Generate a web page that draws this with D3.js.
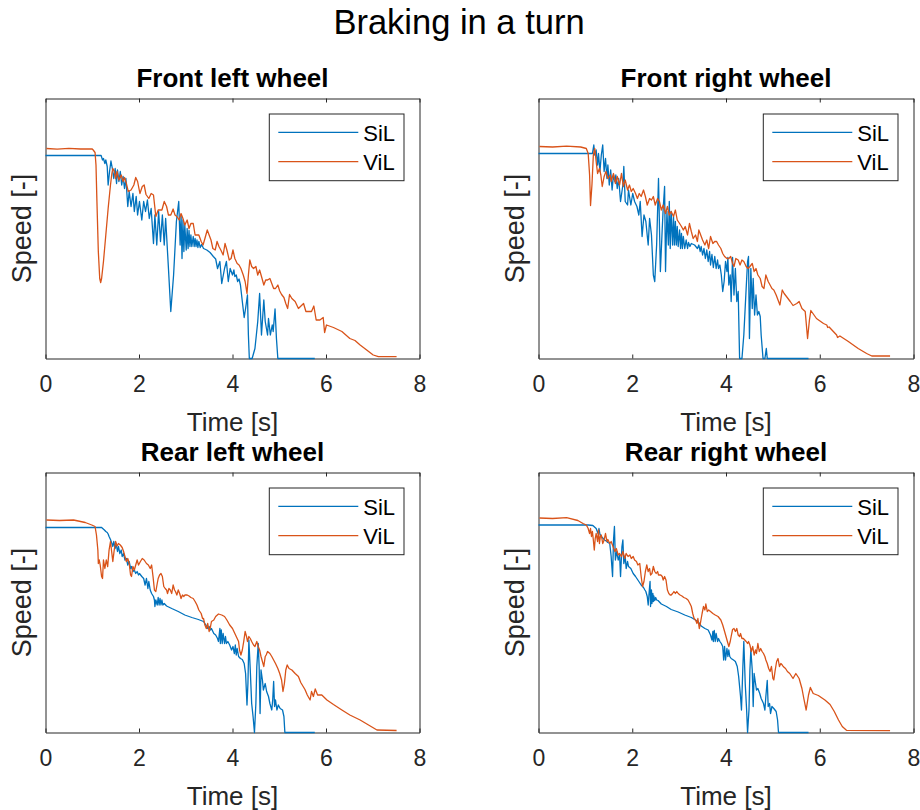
<!DOCTYPE html>
<html>
<head>
<meta charset="utf-8">
<script src="https://cdn.jsdelivr.net/npm/d3@7"></script>
<style>
  body { margin: 0; background: #fff; }
  svg { display: block; }
  text { font-family: "Liberation Sans", Arial, Helvetica, sans-serif; }
</style>
</head>
<body>
<svg id="fig" width="920" height="810"></svg>
<script>
// Wheel speed traces, [time s, speed], for SiL (blue) and ViL (orange) runs.
const flSiL = [[0,203],[1.19,203],[1.22,198.5],[1.24,200],[1.27,195],[1.29,198.5],[1.32,192],[1.34,173.5],[1.37,187],[1.40,197.5],[1.43,190],[1.46,180],[1.49,190],[1.52,175],[1.54,188.5],[1.57,177],[1.60,187],[1.63,173.5],[1.66,182],[1.69,170],[1.72,180],[1.76,152],[1.79,167],[1.83,152],[1.87,165],[1.90,147],[1.94,162],[1.97,143.5],[2.01,157],[2.06,138.5],[2.10,157],[2.14,147],[2.18,158.5],[2.22,140],[2.26,150],[2.31,115],[2.34,143.5],[2.38,113.5],[2.42,147],[2.46,117],[2.50,143.5],[2.54,113.5],[2.57,140],[2.63,90],[2.68,47],[2.74,83.5],[2.80,137],[2.85,157],[2.88,113.5],[2.90,143.5],[2.92,100],[2.94,138.5],[2.96,107],[2.98,133.5],[3.01,108.5],[3.03,130],[3.05,110],[3.07,128],[3.09,112],[3.11,123.5],[3.13,112],[3.16,122],[3.18,112],[3.20,120],[3.22,112],[3.24,118.5],[3.26,111],[3.28,117],[3.31,111],[3.34,114],[3.38,110],[3.45,108.5],[3.52,106],[3.59,102],[3.64,99.5],[3.68,90],[3.73,97],[3.77,75],[3.83,90],[3.87,97],[3.91,77],[3.95,90],[4.00,83.5],[4.03,88.5],[4.05,82],[4.08,83.5],[4.11,77],[4.14,79.5],[4.17,73.5],[4.21,57],[4.25,41],[4.28,50],[4.32,63.5],[4.34,23.5],[4.36,0],[4.42,0],[4.48,10],[4.54,37],[4.58,65],[4.62,23.5],[4.67,58.5],[4.70,37],[4.75,23.5],[4.77,40],[4.81,23.5],[4.85,33.5],[4.87,27],[4.91,49.5],[4.94,20],[4.97,0],[5.76,0]];
const flViL = [[0.02,210],[0.25,209.3],[0.5,210.2],[0.75,209.5],[1.0,209.5],[1.02,208.5],[1.06,206],[1.08,193.5],[1.10,157],[1.13,107],[1.16,80],[1.18,76],[1.20,80],[1.24,97],[1.29,123.5],[1.34,150],[1.39,173.5],[1.42,185],[1.44,190],[1.47,187.5],[1.50,180],[1.53,187],[1.57,178.5],[1.62,183.5],[1.66,177],[1.69,181],[1.73,175],[1.77,167],[1.83,168.5],[1.89,173.5],[1.93,181],[1.97,177],[2.02,165],[2.07,172],[2.11,173.5],[2.15,164],[2.21,160],[2.26,165],[2.31,163.5],[2.36,142],[2.41,148.5],[2.49,148.5],[2.54,157],[2.59,152],[2.63,143.5],[2.68,143.5],[2.73,149.5],[2.77,143.5],[2.81,142],[2.86,138.5],[2.90,145],[2.94,140],[2.98,133.5],[3.03,138.5],[3.07,130],[3.11,135],[3.16,135],[3.20,123.5],[3.24,123.5],[3.28,123.5],[3.33,117],[3.37,113.5],[3.41,120],[3.46,128.5],[3.50,123.5],[3.54,118.5],[3.58,110],[3.63,108.5],[3.67,117],[3.71,112],[3.75,108.5],[3.80,103.5],[3.84,115],[3.88,108.5],[3.93,98.5],[3.97,100],[4.01,108.5],[4.05,100],[4.10,95],[4.14,93.5],[4.18,90],[4.23,83.5],[4.27,77],[4.31,65],[4.34,83.5],[4.37,98.5],[4.41,92],[4.45,90],[4.50,92],[4.54,83.5],[4.58,88.5],[4.62,82],[4.67,73.5],[4.71,78.5],[4.75,78.5],[4.80,80],[4.84,75],[4.88,70],[4.92,70],[4.97,73.5],[5.01,67.5],[5.05,64],[5.10,61],[5.14,55],[5.18,50],[5.22,64],[5.27,60],[5.34,57],[5.41,50],[5.52,55],[5.57,47],[5.69,47],[5.74,52.5],[5.79,38.5],[5.87,38.5],[5.94,41],[5.97,26],[6.01,33.5],[6.16,31],[6.34,27],[6.51,20],[6.62,18],[6.73,13.5],[6.87,8.5],[7.01,3.5],[7.12,1.8],[7.51,1.8]];

const frSiL = [[0,205],[1.15,205],[1.18,213.5],[1.20,203.5],[1.23,208.5],[1.26,193.5],[1.28,205],[1.31,187],[1.34,203.5],[1.37,213.5],[1.40,187],[1.43,200],[1.46,180],[1.48,193.5],[1.51,173.5],[1.54,188.5],[1.57,168.5],[1.60,183.5],[1.63,177],[1.65,183.5],[1.68,170],[1.71,180],[1.75,157],[1.80,173.5],[1.82,192],[1.85,157],[1.90,153.5],[1.92,168.5],[1.97,153.5],[2.01,165],[2.05,157],[2.10,152],[2.14,143.5],[2.17,157],[2.21,122],[2.25,143.5],[2.29,137],[2.34,113.5],[2.37,140],[2.41,123.5],[2.45,83.5],[2.48,77],[2.52,113.5],[2.56,180],[2.60,87],[2.64,130],[2.66,150],[2.69,172],[2.71,87],[2.74,147],[2.77,113.5],[2.79,157],[2.81,110],[2.83,147],[2.86,113.5],[2.88,142],[2.90,113.5],[2.92,137],[2.94,113.5],[2.96,132],[2.98,112],[3.01,128.5],[3.03,110],[3.05,125],[3.07,110],[3.09,122],[3.12,110],[3.15,118.5],[3.18,110],[3.20,116],[3.23,112],[3.26,115],[3.33,113.5],[3.39,110],[3.42,113.5],[3.45,107],[3.47,112],[3.50,103.5],[3.53,110],[3.56,100],[3.59,108.5],[3.62,97],[3.65,107],[3.67,93.5],[3.70,104],[3.73,91],[3.76,102],[3.79,90],[3.82,98.5],[3.84,90],[3.87,93.5],[3.90,83.5],[3.93,67],[3.96,77],[3.99,97],[4.02,87],[4.04,101],[4.06,73.5],[4.09,83.5],[4.11,57],[4.14,101],[4.17,63.5],[4.20,90],[4.23,57],[4.26,67],[4.29,0],[4.34,0],[4.38,23.5],[4.43,70],[4.46,97],[4.48,102],[4.50,20],[4.53,90],[4.56,50],[4.58,80],[4.61,43.5],[4.64,63.5],[4.67,43.5],[4.70,47],[4.73,42],[4.75,23.5],[4.79,0],[4.83,0],[4.86,10],[4.88,0],[5.76,0]];
const frViL = [[0.02,212],[0.3,211.5],[0.6,212.3],[0.9,211.5],[1.02,210],[1.06,205],[1.09,183.5],[1.11,153],[1.14,173.5],[1.17,203.5],[1.20,210],[1.23,197],[1.26,185],[1.30,190],[1.33,183.5],[1.36,172],[1.40,182],[1.44,187],[1.48,180],[1.53,183.5],[1.55,177],[1.60,185],[1.64,175],[1.68,182],[1.73,173.5],[1.77,185],[1.81,172],[1.85,178.5],[1.90,168.5],[1.94,173.5],[1.98,167],[2.02,170],[2.07,165],[2.11,160],[2.15,165],[2.19,162],[2.24,168.5],[2.28,162],[2.32,153.5],[2.37,160],[2.41,158.5],[2.45,162],[2.49,153.5],[2.54,160],[2.58,157],[2.62,148.5],[2.66,153.5],[2.71,145],[2.75,152],[2.79,143.5],[2.83,147],[2.88,142],[2.92,148.5],[2.96,138.5],[3.01,135],[3.05,132],[3.09,128.5],[3.13,132],[3.18,123.5],[3.22,135],[3.26,127],[3.30,120],[3.35,123.5],[3.39,117],[3.42,128.5],[3.46,123.5],[3.50,118.5],[3.55,113.5],[3.59,118.5],[3.63,110],[3.67,122],[3.72,115],[3.76,117],[3.80,117],[3.84,113.5],[3.89,110],[3.93,105],[3.97,102],[4.02,100],[4.06,100],[4.10,102],[4.14,95],[4.17,92],[4.21,100],[4.26,98.5],[4.30,93.5],[4.34,98.5],[4.38,97],[4.43,92],[4.47,90],[4.51,92],[4.56,95],[4.60,87],[4.64,90],[4.68,83.5],[4.73,80],[4.77,72],[4.81,70],[4.85,83.5],[4.90,77],[4.94,73.5],[4.98,70],[5.02,68.5],[5.07,63.5],[5.11,58.5],[5.15,53.5],[5.20,68.5],[5.24,65],[5.29,62],[5.37,57],[5.43,53],[5.51,55],[5.56,57],[5.62,50],[5.69,47],[5.74,20],[5.78,38.5],[5.81,48],[5.93,40],[6.08,35],[6.15,33.5],[6.17,31],[6.20,31.5],[6.36,23.5],[6.38,21],[6.43,22.5],[6.61,17],[6.82,10],[7.00,5],[7.11,2.5],[7.50,2.5]];

const rlSiL = [[0,205],[1.20,205],[1.26,202.5],[1.29,201],[1.32,200],[1.34,198.5],[1.36,196],[1.39,193],[1.42,189],[1.44,186],[1.46,191],[1.49,184],[1.51,189],[1.54,181],[1.56,186],[1.59,179],[1.62,182.5],[1.64,176],[1.67,179],[1.70,172.5],[1.73,174],[1.76,167.5],[1.79,171],[1.82,164],[1.84,166],[1.87,161],[1.90,162.5],[1.93,159],[1.96,161],[1.99,157.5],[2.01,159],[2.06,156],[2.10,154],[2.13,147.5],[2.16,154],[2.19,144],[2.21,151],[2.24,142.5],[2.27,139],[2.31,136],[2.33,132.5],[2.34,126],[2.36,132.5],[2.39,127.5],[2.41,135],[2.43,127.5],[2.45,134],[2.47,127.5],[2.49,132.5],[2.51,127.5],[2.54,129],[2.59,126.5],[2.70,124],[2.84,121],[2.98,117.5],[3.13,115],[3.27,113],[3.38,111],[3.43,107.5],[3.47,104],[3.50,106],[3.53,102.5],[3.55,104],[3.60,99],[3.64,97.5],[3.68,94],[3.70,91],[3.73,104],[3.74,89],[3.76,102.5],[3.78,89],[3.80,99],[3.83,89],[3.85,96],[3.87,89],[3.90,91],[3.94,87.5],[3.98,82.5],[4.01,86],[4.04,79],[4.06,87.5],[4.08,77.5],[4.10,84],[4.13,76],[4.17,74],[4.21,73],[4.25,69],[4.28,59],[4.31,27.5],[4.33,49],[4.35,92.5],[4.38,62.5],[4.41,29],[4.44,16],[4.47,0],[4.50,29],[4.52,66],[4.55,89],[4.57,66],[4.59,19],[4.61,62.5],[4.64,52.5],[4.66,42.5],[4.70,49],[4.73,41],[4.77,36],[4.80,29],[4.84,22.5],[4.86,32.5],[4.88,51],[4.90,26],[4.92,32.5],[4.95,22.5],[4.98,27.5],[5.02,24],[5.07,22.5],[5.10,16],[5.12,0],[5.76,0]];
const rlViL = [[0.02,212.5],[0.3,212],[0.6,212.5],[0.85,210],[0.99,207.5],[1.06,206],[1.09,197.5],[1.12,182.5],[1.13,169],[1.15,172.5],[1.17,167.5],[1.20,156],[1.22,154],[1.24,172.5],[1.27,164],[1.30,172.5],[1.33,166],[1.36,182.5],[1.39,191],[1.42,179],[1.44,171],[1.47,182.5],[1.50,191],[1.53,186.5],[1.56,189],[1.60,187.5],[1.64,185],[1.67,181],[1.70,176],[1.73,171],[1.76,174],[1.79,169],[1.82,157.5],[1.84,156],[1.87,166],[1.90,162.5],[1.93,167.5],[1.96,172.5],[1.99,167.5],[2.03,171],[2.07,174],[2.11,172.5],[2.16,169],[2.20,167.5],[2.24,164],[2.27,167.5],[2.30,156],[2.33,142.5],[2.36,141],[2.39,149],[2.41,154],[2.44,157.5],[2.47,159],[2.50,156],[2.53,146],[2.56,144],[2.59,142.5],[2.61,139],[2.64,144],[2.67,142.5],[2.70,139],[2.73,147.5],[2.76,142.5],[2.78,141],[2.81,137.5],[2.84,142.5],[2.87,139],[2.90,134],[2.93,137.5],[2.96,136],[2.98,137.5],[3.03,137.5],[3.07,136.5],[3.11,135],[3.16,134],[3.20,131],[3.24,127.5],[3.28,122.5],[3.33,119],[3.36,114],[3.38,114],[3.41,107.5],[3.44,104],[3.47,109],[3.50,101],[3.53,106],[3.55,111],[3.60,112.5],[3.64,116],[3.70,118.5],[3.77,117.5],[3.83,116],[3.88,112.5],[3.94,107.5],[4.00,104],[4.05,99],[4.10,94],[4.13,91],[4.15,82.5],[4.18,77.5],[4.21,82.5],[4.24,91],[4.27,101],[4.30,96],[4.32,91],[4.35,96],[4.38,94],[4.41,91],[4.45,87.5],[4.48,86],[4.52,91],[4.55,86],[4.58,82.5],[4.61,76],[4.64,71],[4.67,66],[4.70,76],[4.72,77.5],[4.75,81],[4.80,79],[4.84,76],[4.88,72.5],[4.92,69],[4.97,64],[5.01,59],[5.05,52.5],[5.08,41],[5.11,49],[5.14,62.5],[5.17,67.5],[5.21,64],[5.27,62.5],[5.34,59],[5.41,56],[5.46,50],[5.55,43],[5.60,37.5],[5.66,32.5],[5.69,41],[5.73,36],[5.77,43.5],[5.82,37.5],[5.91,37.5],[6.02,32.5],[6.16,28],[6.34,22.5],[6.51,17.5],[6.73,12.5],[6.91,7.5],[7.09,2.5],[7.51,2]];

const rrSiL = [[0,207.5],[1.06,207.5],[1.16,207],[1.23,204],[1.27,199],[1.29,204],[1.31,198.5],[1.34,196],[1.38,194],[1.41,192.5],[1.46,191],[1.48,190],[1.52,189],[1.55,176],[1.58,156],[1.60,192.5],[1.62,206],[1.64,172.5],[1.67,181],[1.70,172.5],[1.73,177.5],[1.75,156],[1.78,186],[1.80,192.5],[1.82,169],[1.85,176],[1.87,164],[1.90,171],[1.92,166],[1.97,164],[2.02,159],[2.07,156],[2.12,152.5],[2.19,147.5],[2.24,145],[2.27,142.5],[2.29,141],[2.32,136],[2.34,127.5],[2.37,146],[2.38,151],[2.39,126],[2.41,142.5],[2.42,129],[2.44,139],[2.45,131],[2.46,136.5],[2.48,132],[2.50,135],[2.52,132.5],[2.55,132],[2.62,128.5],[2.73,126],[2.83,123],[2.98,120.5],[3.12,117.5],[3.26,115],[3.33,113],[3.40,111],[3.47,106.5],[3.55,104],[3.62,102.5],[3.67,97.5],[3.70,92.5],[3.72,101],[3.73,91],[3.75,102],[3.77,91],[3.79,99],[3.82,91],[3.84,94],[3.87,91],[3.90,89],[3.93,86],[3.95,72.5],[3.97,86],[3.99,72.5],[4.02,84],[4.04,76],[4.06,82.5],[4.08,76],[4.11,74],[4.16,72.5],[4.20,71],[4.24,66],[4.27,56],[4.31,36],[4.33,22.5],[4.36,66],[4.38,91],[4.41,49],[4.44,22.5],[4.46,0],[4.49,22.5],[4.51,62.5],[4.53,82.5],[4.56,62.5],[4.58,26],[4.60,59],[4.63,49],[4.65,42.5],[4.68,44],[4.72,39],[4.75,34],[4.80,29],[4.83,22.5],[4.85,36],[4.88,52],[4.90,26],[4.93,29],[4.95,19],[4.98,26],[5.02,24],[5.07,21],[5.10,12.5],[5.12,0],[5.76,0]];
const rrViL = [[0.02,214.5],[0.3,214],[0.6,214.8],[0.84,212],[0.95,209],[1.02,207.5],[1.06,204],[1.09,199],[1.11,204],[1.13,196],[1.15,201],[1.17,192.5],[1.19,182.5],[1.21,194],[1.23,199],[1.26,191],[1.28,202.5],[1.30,189],[1.32,196],[1.34,197.5],[1.37,189],[1.40,192.5],[1.43,199],[1.46,191],[1.48,193],[1.52,189],[1.55,191],[1.59,186],[1.63,181],[1.66,184],[1.70,177.5],[1.73,179],[1.77,176],[1.80,181],[1.84,174],[1.87,179],[1.91,176],[1.95,177.5],[1.98,174],[2.02,176],[2.05,172.5],[2.09,171],[2.12,167.5],[2.16,169],[2.19,156],[2.22,146],[2.25,151],[2.28,161],[2.31,167.5],[2.34,161],[2.37,164],[2.39,157.5],[2.42,159],[2.45,166],[2.48,161],[2.51,159],[2.54,161],[2.56,157.5],[2.61,157.5],[2.64,156],[2.66,152.5],[2.69,156],[2.72,152.5],[2.75,142.5],[2.78,139],[2.81,137.5],[2.83,137.5],[2.86,139],[2.89,141],[2.92,139],[2.95,141],[2.98,139],[3.02,137.5],[3.06,136.5],[3.10,135],[3.15,134],[3.19,132.5],[3.23,129],[3.26,126],[3.29,119],[3.32,114],[3.35,112.5],[3.38,109],[3.40,114],[3.43,104],[3.46,111],[3.49,119],[3.52,126],[3.55,122.5],[3.57,128.5],[3.60,121],[3.63,122.5],[3.67,121],[3.72,119],[3.77,117.5],[3.83,116],[3.89,112.5],[3.93,107.5],[3.97,101],[4.00,96],[4.03,91],[4.06,86],[4.09,91],[4.11,96],[4.14,103],[4.17,104],[4.20,101],[4.23,104],[4.26,97.5],[4.29,96],[4.31,99],[4.34,94],[4.37,94],[4.40,92.5],[4.43,91],[4.46,89],[4.48,91],[4.51,87.5],[4.54,81],[4.57,86],[4.60,77.5],[4.63,82.5],[4.65,79],[4.68,89],[4.71,81],[4.74,84],[4.77,81],[4.80,79],[4.83,76],[4.85,72.5],[4.88,69],[4.91,64],[4.94,61],[4.97,66],[5.00,54],[5.02,52.5],[5.05,62.5],[5.08,71],[5.11,74],[5.14,66],[5.17,69],[5.20,67.5],[5.22,66],[5.27,64],[5.31,61],[5.36,59],[5.43,54],[5.49,59],[5.56,54],[5.62,44],[5.66,34],[5.71,22.5],[5.76,37.5],[5.80,45],[5.86,39],[5.97,37],[6.11,32.5],[6.22,28],[6.31,21],[6.40,12.5],[6.48,6],[6.57,2.2],[7.50,1.8]];

const timeTicks = [0, 2, 4, 6, 8];
const seriesNames = ["SiL", "ViL"];
const seriesColors = ["#0072BD", "#D95319"];
const wheelTitles = ["Front left wheel", "Front right wheel", "Rear left wheel", "Rear right wheel"];
const wheelData = [[flSiL, flViL], [frSiL, frViL], [rlSiL, rlViL], [rrSiL, rrViL]];

const W = 920, H = 810;
const colX = [[45.5, 419.5], [538.5, 913.5]];
const rowY = [[98.5, 358.5], [472.5, 732.5]];
const axisColor = "#262626";

const svg = d3.select("#fig");
svg.append("rect").attr("width", W).attr("height", H).attr("fill", "#fff");

svg.append("text")
  .attr("x", 459).attr("y", 34)
  .attr("text-anchor", "middle")
  .attr("font-size", 34.5)
  .attr("fill", "#000")
  .text("Braking in a turn");

wheelTitles.forEach((title, i) => {
  const [x0, x1] = colX[i % 2];
  const [y0, y1] = rowY[Math.floor(i / 2)];
  const x = d3.scaleLinear().domain([0, 8]).range([x0, x1]);
  const y = d3.scaleLinear().domain([0, 260]).range([y1, y0]);
  const g = svg.append("g");

  // frame with inward ticks on bottom and top
  const styleAxis = sel => {
    sel.selectAll(".domain").attr("stroke", axisColor).attr("stroke-width", 1);
    sel.selectAll(".tick line").attr("stroke", axisColor).attr("stroke-width", 1);
  };
  g.append("g").attr("transform", `translate(0,${y1})`)
    .call(d3.axisBottom(x).tickValues(timeTicks).tickSizeInner(-4).tickSizeOuter(0).tickPadding(17).tickFormat(d3.format("d")))
    .call(styleAxis)
    .call(s => s.selectAll(".tick text")
      .attr("font-size", 23).attr("fill", axisColor)
      .attr("font-family", '"Liberation Sans", Arial, sans-serif'));
  g.append("g").attr("transform", `translate(0,${y0})`)
    .call(d3.axisTop(x).tickValues(timeTicks).tickSizeInner(-4).tickSizeOuter(0).tickFormat(""))
    .call(styleAxis);
  g.append("g").attr("transform", `translate(${x0},0)`)
    .call(d3.axisLeft(y).tickValues([]).tickSizeOuter(0))
    .call(styleAxis);
  g.append("g").attr("transform", `translate(${x1},0)`)
    .call(d3.axisRight(y).tickValues([]).tickSizeOuter(0))
    .call(styleAxis);

  // traces
  const line = d3.line().x(d => x(d[0])).y(d => y(d[1]));
  wheelData[i].forEach((series, k) => {
    g.append("path")
      .datum(series)
      .attr("d", line)
      .attr("fill", "none")
      .attr("stroke", seriesColors[k])
      .attr("stroke-width", 1.3)
      .attr("stroke-linejoin", "round");
  });

  // panel title and axis labels
  g.append("text")
    .attr("x", (x0 + x1) / 2).attr("y", y0 - 11.5)
    .attr("text-anchor", "middle")
    .attr("font-size", 26).attr("font-weight", "bold").attr("fill", "#000")
    .text(title);
  g.append("text")
    .attr("x", (x0 + x1) / 2).attr("y", y1 + 72.5)
    .attr("text-anchor", "middle")
    .attr("font-size", 26).attr("fill", axisColor)
    .text("Time [s]");
  g.append("text")
    .attr("transform", `translate(${x0 - 14.5},${(y0 + y1) / 2}) rotate(-90)`)
    .attr("text-anchor", "middle")
    .attr("font-size", 27).attr("fill", axisColor)
    .text("Speed [-]");

  // legend
  const lx = x1 - 150.2, ly = y0 + 15.5;
  const lg = g.append("g").attr("transform", `translate(${lx},${ly})`);
  lg.append("rect").attr("x", 0).attr("y", 0).attr("width", 134.7).attr("height", 66.7)
    .attr("fill", "#fff").attr("stroke", axisColor).attr("stroke-width", 1);
  seriesNames.forEach((name, k) => {
    const cy = 18.3 + k * 29.4;
    lg.append("line").attr("x1", 9).attr("x2", 89).attr("y1", cy).attr("y2", cy)
      .attr("stroke", seriesColors[k]).attr("stroke-width", 1.3);
    lg.append("text").attr("x", 94).attr("y", cy + 8.5)
      .attr("font-size", 22).attr("fill", "#000").text(name);
  });
});
</script>
</body>
</html>
